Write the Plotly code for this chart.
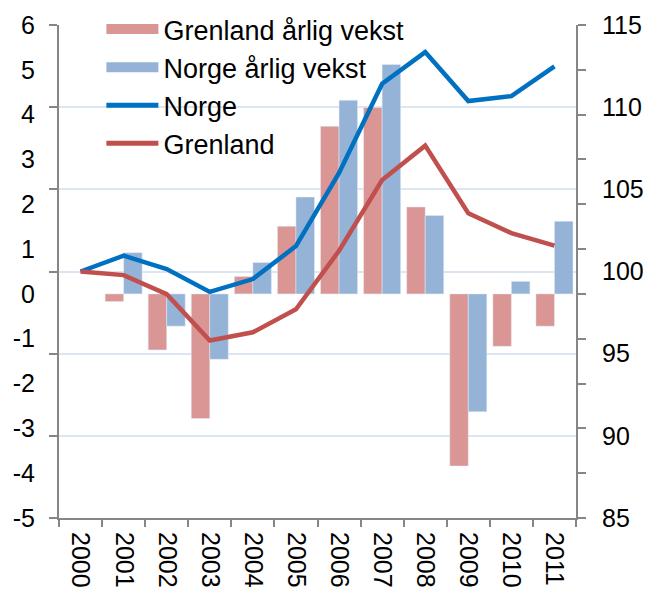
import plotly.graph_objects as go

years = ["2000", "2001", "2002", "2003", "2004", "2005", "2006", "2007", "2008", "2009", "2010", "2011"]
grenland_vekst = [None, -0.17, -1.25, -2.78, 0.39, 1.51, 3.74, 4.16, 1.94, -3.84, -1.17, -0.72]
norge_vekst = [None, 0.92, -0.72, -1.46, 0.70, 2.16, 4.32, 5.12, 1.75, -2.63, 0.28, 1.62]
norge_indeks = [100.0, 100.96, 100.15, 98.76, 99.54, 101.55, 106.0, 111.43, 113.35, 110.37, 110.67, 112.48]
grenland_indeks = [100.0, 99.78, 98.62, 95.8, 96.3, 97.7, 101.26, 105.57, 107.66, 103.54, 102.34, 101.57]

left_ticks = list(range(-5, 7))
right_ticks = [85, 90, 95, 100, 105, 110, 115]

PINK = "#D99694"
LBLUE = "#95B3D7"
BLUE = "#0070C0"
RED = "#C0504D"
GRID = "#DCE6F2"
AXIS = "#868686"
FONT = "Liberation Sans, Arial, sans-serif"

W, H = 646, 592
ML, MR, MT, MB = 59, 70, 5, 74
PLOT_TOP = 25
ydom = [0, (H - MB - PLOT_TOP) / (H - MB - MT)]

fig = go.Figure()

# bars (left axis)
fig.add_trace(go.Bar(x=years, y=grenland_vekst, marker=dict(color=PINK), showlegend=False,
                     name="Grenland årlig vekst", yaxis="y"))
fig.add_trace(go.Bar(x=years, y=norge_vekst, marker=dict(color=LBLUE), showlegend=False,
                     name="Norge årlig vekst", yaxis="y"))
# lines (right axis)
fig.add_trace(go.Scatter(x=years, y=norge_indeks, mode="lines", line=dict(color=BLUE, width=4.5),
                         showlegend=False, name="Norge", yaxis="y2"))
fig.add_trace(go.Scatter(x=years, y=grenland_indeks, mode="lines", line=dict(color=RED, width=4.5),
                         showlegend=False, name="Grenland", yaxis="y2"))

# legend entries
for nm, col, w in [("Grenland årlig vekst", PINK, 14), ("Norge årlig vekst", LBLUE, 14),
                   ("Norge", BLUE, 5), ("Grenland", RED, 5)]:
    fig.add_trace(go.Scatter(x=[None], y=[None], mode="lines", line=dict(color=col, width=w),
                             name=nm, showlegend=True, yaxis="y2"))

# empty traces so the tick-only axes are drawn
fig.add_trace(go.Scatter(x=[None], y=[None], yaxis="y3", showlegend=False, hoverinfo="skip"))
fig.add_trace(go.Scatter(x=[None], y=[None], yaxis="y4", showlegend=False, hoverinfo="skip"))

tickfont = dict(family=FONT, size=25, color="black")

fig.update_layout(
    width=W, height=H,
    margin=dict(l=ML, r=MR, t=MT, b=MB),
    paper_bgcolor="white", plot_bgcolor="white",
    barmode="group", bargap=0.14, bargroupgap=0,
    font=dict(family=FONT, color="black"),
    xaxis=dict(type="category", range=[-0.5, 11.5], tickangle=90, tickfont=tickfont,
               ticks="outside", tickson="boundaries", ticklen=7, tickcolor=AXIS, tickwidth=1.5,
               showline=True, linecolor=AXIS, linewidth=2, showgrid=False, automargin=False,
               ticklabelstandoff=7),
    yaxis=dict(domain=ydom, range=[-5, 6], tickmode="array", tickvals=left_ticks,
               ticktext=[str(v) for v in left_ticks], ticks="", showgrid=False, zeroline=False,
               showline=False, tickfont=tickfont, ticklabelstandoff=23, automargin=False),
    yaxis2=dict(domain=ydom, range=[85, 115], overlaying="y", side="right", tickmode="array",
                tickvals=right_ticks, ticks="", showgrid=True, gridcolor=GRID, gridwidth=2,
                zeroline=False, showline=False, tickfont=tickfont, ticklabelstandoff=25,
                automargin=False),
    yaxis3=dict(domain=ydom, range=[85, 115], overlaying="y", side="left", tickmode="array",
                tickvals=right_ticks, showticklabels=False, ticks="outside", ticklen=8,
                tickcolor=AXIS, tickwidth=1.5, showline=True, linecolor=AXIS, linewidth=2,
                showgrid=False, zeroline=False, automargin=False),
    yaxis4=dict(domain=ydom, range=[-5, 6], overlaying="y", side="right", tickmode="array",
                tickvals=left_ticks, showticklabels=False, ticks="outside", ticklen=8,
                tickcolor=AXIS, tickwidth=1.5, showline=True, linecolor=AXIS, linewidth=2,
                showgrid=False, zeroline=False, automargin=False),
    legend=dict(x=0.082, y=1.0, xanchor="left", yanchor="top", bgcolor="rgba(0,0,0,0)",
                font=dict(family=FONT, size=27, color="black"), itemwidth=52,
                tracegroupgap=0, traceorder="normal"),
)

fig.write_html("out.html", config={"displayModeBar": False},
               post_script="document.body.style.margin='0px';")
